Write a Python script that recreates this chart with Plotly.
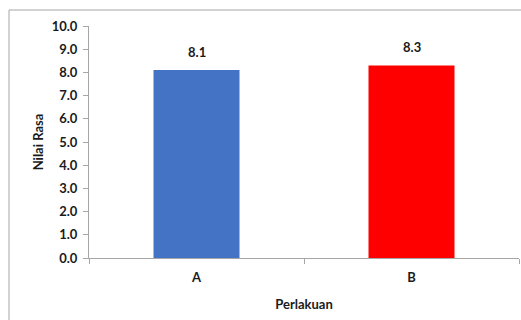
import plotly.graph_objects as go

# Mean taste score per treatment
perlakuan = ["A", "B"]
nilai_rasa = [8.1, 8.3]
warna = ["#4472C4", "#FF0000"]
y_ticks = [0, 1, 2, 3, 4, 5, 6, 7, 8, 9, 10]

W, H = 521, 320
L, R, T, B = 89, 2, 26, 62
pw, ph = W - L - R, H - T - B

font_family = "Lato, Calibri, 'Open Sans', sans-serif"
txt = "#1a1a1a"
grey = "#a6a6a6"

fig = go.Figure(
    go.Bar(
        x=perlakuan,
        y=nilai_rasa,
        marker=dict(color=warna, line=dict(width=0)),
        width=0.4,
        hoverinfo="x+y",
    )
)

# Value labels above each bar
for cat, val in zip(perlakuan, nilai_rasa):
    fig.add_annotation(
        x=cat,
        y=val,
        text=f"<b>{val:.1f}</b>",
        showarrow=False,
        yanchor="bottom",
        yshift=8,
        font=dict(size=13, color=txt, family=font_family),
    )

fig.update_layout(
    width=W,
    height=H,
    margin=dict(l=L, r=R, t=T, b=B),
    paper_bgcolor="white",
    plot_bgcolor="white",
    showlegend=False,
    font=dict(family=font_family, color=txt),
    xaxis=dict(
        type="category",
        tickson="boundaries",
        ticks="outside",
        ticklen=5,
        tickcolor=grey,
        showline=True,
        linecolor=grey,
        linewidth=1,
        showgrid=False,
        tickfont=dict(size=13, family=font_family),
        tickprefix="<b>",
        ticksuffix="</b>",
        ticklabelstandoff=7,
        title=dict(text="<b>Perlakuan</b>", font=dict(size=13), standoff=16),
    ),
    yaxis=dict(
        range=[0, 10],
        tickvals=y_ticks,
        ticktext=[f"<b>{v:.1f}</b>" for v in y_ticks],
        ticks="outside",
        ticklen=5,
        tickcolor=grey,
        showline=True,
        linecolor=grey,
        linewidth=1,
        showgrid=False,
        zeroline=False,
        tickfont=dict(size=13, family=font_family),
        ticklabelstandoff=3,
        title=dict(text="<b>Nilai Rasa</b>", font=dict(size=13), standoff=5),
    ),
)

# Chart-area frame (left and top edges fall inside the view)
fig.add_shape(
    type="rect",
    xref="paper",
    yref="paper",
    x0=(9 - L) / pw,
    x1=(W + 10 - L) / pw,
    y0=(ph + T - (H + 10)) / ph,
    y1=(ph + T - 10) / ph,
    line=dict(color=grey, width=1),
    fillcolor="rgba(0,0,0,0)",
    layer="below",
)

fig.write_html("out.html")
